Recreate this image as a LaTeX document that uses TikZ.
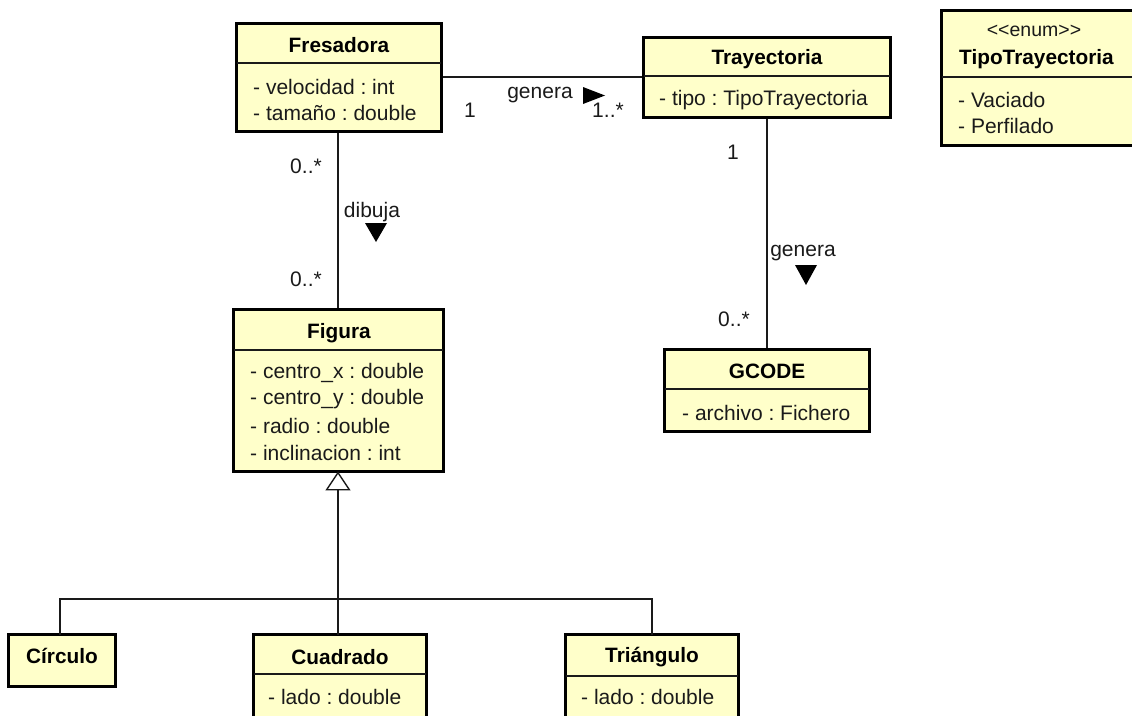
\documentclass[tikz,border=0pt]{standalone}
\usepackage{fontspec}
\setmainfont{Liberation Sans}
\usetikzlibrary{arrows.meta}
\frenchspacing

\definecolor{classfill}{HTML}{FFFFCA}
\definecolor{ink}{HTML}{1A1A1A}

% class box from outer corner (x1,y1) to (x2,y2); y grows downwards
\newcommand\umlclass[5]{%
  \node[classbox, minimum width={(#4-#2-3.2)*1pt}, minimum height={(#5-#3-3.2)*1pt}]
    (#1) at ({(#2+#4)/2},{(#3+#5)/2}) {};}
% compartment separator of a class box at height y
\newcommand\compsep[2]{\draw[sepline] (#1.west |- 0,#2) -- (#1.east |- 0,#2);}

\tikzset{
  classbox/.style={draw=black, fill=classfill, line width=3.2pt, rectangle, inner sep=0pt, outer sep=0pt},
  sepline/.style={draw=ink, line width=1.1pt},
  link/.style={draw=ink, line width=1.3pt},
  ctitle/.style={font=\bfseries\fontsize{20.8}{24}\selectfont, inner sep=0pt, text=black},
  cattr/.style={font=\fontsize{21}{24}\selectfont, inner sep=0pt, anchor=west, text=ink},
  stereo/.style={font=\fontsize{19.5}{22}\selectfont, inner sep=0pt, text=ink},
  mult/.style={font=\fontsize{21}{24}\selectfont, inner sep=0pt, text=ink},
}

\begin{document}
\begin{tikzpicture}[x=1pt, y=-1pt]
  \useasboundingbox (0,0) rectangle (1132,715);
  \clip (0,0) rectangle (1132,715);

  % ---------- associations (behind the boxes) ----------
  \coordinate (fresDown) at (338,133);
  \coordinate (figUp) at (338,308);
  \coordinate (trayDown) at (767,119);
  \coordinate (gcodeUp) at (767,348);
  \draw[link] (fresDown) -- (figUp);
  \draw[link] (trayDown) -- (gcodeUp);
  \coordinate (fresRight) at (443,77);
  \coordinate (trayLeft) at (642,77);
  \draw[link] (fresRight) -- (trayLeft);

  % ---------- classes ----------
  \umlclass{fres}{235}{22}{443}{133}
  \compsep{fres}{63}
  \node[ctitle] (fres-n) at (339,45) {Fresadora};
  \node[cattr] (fres-a1) at (253,87) {- velocidad : int};
  \node[cattr] (fres-a2) at (253,113) {- tamaño : double};

  \umlclass{tray}{642}{36}{892}{119}
  \compsep{tray}{76}
  \node[ctitle] (tray-n) at (767,59) {Trayectoria};
  \node[cattr] (tray-a1) at (659,100) {- tipo : TipoTrayectoria};

  \umlclass{tipo}{940}{9}{1145}{147}
  \compsep{tipo}{77}
  \node[stereo] (tipo-s) at (1034,31) {<\kern0pt<enum>\kern0pt>};
  \node[ctitle, anchor=west] (tipo-n) at (959,59) {TipoTrayectoria};
  \node[cattr] (tipo-a1) at (958,100) {- Vaciado};
  \node[cattr] (tipo-a2) at (958,126) {- Perfilado};

  \umlclass{fig}{232}{308}{445}{473}
  \compsep{fig}{350}
  \node[ctitle] (fig-n) at (339,333) {Figura};
  \node[cattr] (fig-a1) at (250,373) {- centro\_x : double};
  \node[cattr] (fig-a2) at (250,399.5) {- centro\_y : double};
  \node[cattr] (fig-a3) at (250,426) {- radio : double};
  \node[cattr] (fig-a4) at (250,452.5) {- inclinacion : int};

  \umlclass{gcode}{663}{348}{871}{433}
  \compsep{gcode}{389}
  \node[ctitle] (gcode-n) at (767,371) {GCODE};
  \node[cattr] (gcode-a1) at (682,413) {- archivo : Fichero};

  \umlclass{circ}{7}{633}{117}{688}
  \node[ctitle] (circ-n) at (62,656) {Círculo};

  \umlclass{cuad}{252}{633}{428}{730}
  \compsep{cuad}{674}
  \node[ctitle] (cuad-n) at (340,657) {Cuadrado};
  \node[cattr] (cuad-a1) at (268,697) {- lado : double};

  \umlclass{tria}{564}{633}{740}{730}
  \compsep{tria}{676}
  \node[ctitle] (tria-n) at (652,657) {Triángulo};
  \node[cattr] (tria-a1) at (581,697) {- lado : double};

  % ---------- generalization ----------
  \coordinate (bus) at (338,599);
  \draw[link] (circ.north -| 60,0) |- (bus);
  \draw[link] (tria.north) |- (bus);
  \draw[link] (cuad.north -| bus) -- (bus);
  \draw[link, -{Triangle[open, width=25pt, length=19pt, line width=1.4pt]}] (bus) -- (fig.south -| bus);

  % ---------- association labels ----------
  \node[mult] (m1) at (470,110) {1};
  \node[mult] (m2) at (608,110) {1..*};
  \node[mult] (gen1) at (540,95) {genera};
  \fill[black] (583,87) -- (605,95.5) -- (583,104) -- cycle;

  \node[mult] (m3) at (306,166) {0..*};
  \node[mult] (m4) at (306,279) {0..*};
  \node[mult] (dib) at (372,212) {dibuja};
  \fill[black] (365,223) -- (387,223) -- (376,242) -- cycle;

  \node[mult] (m5) at (733,152) {1};
  \node[mult] (m6) at (734,319) {0..*};
  \node[mult] (gen2) at (803,253) {genera};
  \fill[black] (795,265) -- (817,265) -- (806,285) -- cycle;
\end{tikzpicture}
\end{document}
